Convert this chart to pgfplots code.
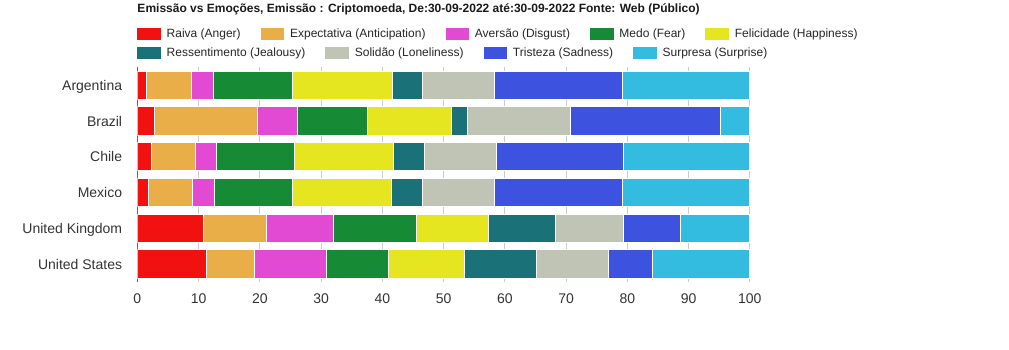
\documentclass[border=0pt]{standalone}
\usepackage{pgfplots}
\pgfplotsset{compat=1.18}
\usepackage{pgfplotstable}
\usepackage{fontspec}
\setmainfont{Liberation Sans}

\definecolor{cRaiva}{HTML}{F21111}
\definecolor{cExpec}{HTML}{E9AE48}
\definecolor{cAvers}{HTML}{E34AD3}
\definecolor{cMedo}{HTML}{168A35}
\definecolor{cFelic}{HTML}{E6E620}
\definecolor{cRess}{HTML}{1A7278}
\definecolor{cSolid}{HTML}{C0C4B5}
\definecolor{cTrist}{HTML}{3D53E0}
\definecolor{cSurp}{HTML}{33BCDF}

\pgfplotstableread{
idx raiva expec avers medo felic ress solid trist surp
5 1.58 7.24 3.59 12.90 16.32 4.97 11.69 20.89 20.82
4 2.78 16.81 6.53 11.43 13.72 2.67 16.75 24.49 4.82
3 2.29 7.18 3.43 12.73 16.17 5.06 11.75 20.74 20.65
2 1.75 7.23 3.59 12.74 16.16 5.06 11.76 20.89 20.82
1 10.78 10.28 10.94 13.55 11.82 10.87 11.11 9.30 11.35
0 11.27 7.83 11.76 10.12 12.41 11.75 11.76 7.18 15.92
}\datatable

\begin{document}
\begin{tikzpicture}
\path[use as bounding box] (0pt,0pt) rectangle (1009pt,-350pt);

\begin{axis}[
  at={(137.3pt,-282pt)}, anchor=south west,
  scale only axis, width=612.5pt, height=214.6pt,
  xbar stacked, bar width=28.3pt,
  xmin=0, xmax=100, ymin=-0.5, ymax=5.5,
  xtick={0,10,...,100}, ytick={0,...,5},
  yticklabels={United States,United Kingdom,Mexico,Chile,Brazil,Argentina},
  axis line style={draw=none},
  major tick length=0pt,
  xmajorgrids, grid style={draw=black!20, line width=1pt},
  /pgf/number format/assume math mode=true,
  tick label style={font=\fontsize{14pt}{16pt}\selectfont, text=black!80},
  xticklabel style={anchor=base, inner sep=0pt, yshift=-21.3pt},
  yticklabel style={anchor=base east, inner sep=0pt, xshift=-15pt, yshift=-5pt},
  title={Emissão vs Emoções, Emissão : Criptomoeda, De:30-09-2022 até:30-09-2022 Fonte: Web (Público)},
  title style={at={(0,1.2288)}, anchor=base west, inner sep=0pt, text=black!90,
    font=\bfseries\fontsize{12pt}{14pt}\selectfont},
  every axis plot/.append style={draw=white, line width=1pt},
]
\addplot[fill=cRaiva] table[x=raiva, y=idx] {\datatable};
\addplot[fill=cExpec] table[x=expec, y=idx] {\datatable};
\addplot[fill=cAvers] table[x=avers, y=idx] {\datatable};
\addplot[fill=cMedo] table[x=medo, y=idx] {\datatable};
\addplot[fill=cFelic] table[x=felic, y=idx] {\datatable};
\addplot[fill=cRess] table[x=ress, y=idx] {\datatable};
\addplot[fill=cSolid] table[x=solid, y=idx] {\datatable};
\addplot[fill=cTrist] table[x=trist, y=idx] {\datatable};
\addplot[fill=cSurp] table[x=surp, y=idx] {\datatable};
\draw[black!80, line width=1.5pt] (axis cs:0,-0.5) -- (axis cs:0,5.5);
\end{axis}

\begin{axis}[
  at={(137.3pt,-282pt)}, anchor=south west,
  scale only axis, width=612.5pt, height=214.6pt,
  hide axis, xmin=0, xmax=1, ymin=0, ymax=1,
  legend columns=-1,
  legend image code/.code={\fill[#1, draw=none] (0pt,-5.85pt) rectangle (23.7pt,5.85pt);},
  legend style={at={(0,1.1547)}, anchor=west, draw=none, fill=none,
    inner sep=0pt, outer sep=0pt, text=black!85,
    font=\fontsize{12pt}{14pt}\selectfont, nodes={inner sep=0pt},
    /tikz/every odd column/.append style={column sep=5.7pt},
    /tikz/every even column/.append style={column sep=20pt}},
]
\addlegendimage{fill=cRaiva}
\addlegendimage{fill=cExpec}
\addlegendimage{fill=cAvers}
\addlegendimage{fill=cMedo}
\addlegendimage{fill=cFelic}
\legend{Raiva (Anger), Expectativa (Anticipation), Aversão (Disgust), Medo (Fear), Felicidade (Happiness)}
\end{axis}

\begin{axis}[
  at={(137.3pt,-282pt)}, anchor=south west,
  scale only axis, width=612.5pt, height=214.6pt,
  hide axis, xmin=0, xmax=1, ymin=0, ymax=1,
  legend columns=-1,
  legend image code/.code={\fill[#1, draw=none] (0pt,-5.85pt) rectangle (23.7pt,5.85pt);},
  legend style={at={(0,1.068)}, anchor=west, draw=none, fill=none,
    inner sep=0pt, outer sep=0pt, text=black!85,
    font=\fontsize{12pt}{14pt}\selectfont, nodes={inner sep=0pt},
    /tikz/every odd column/.append style={column sep=5.7pt},
    /tikz/every even column/.append style={column sep=20pt}},
]
\addlegendimage{fill=cRess}
\addlegendimage{fill=cSolid}
\addlegendimage{fill=cTrist}
\addlegendimage{fill=cSurp}
\legend{Ressentimento (Jealousy), Solidão (Loneliness), Tristeza (Sadness), Surpresa (Surprise)}
\end{axis}
\end{tikzpicture}
\end{document}
